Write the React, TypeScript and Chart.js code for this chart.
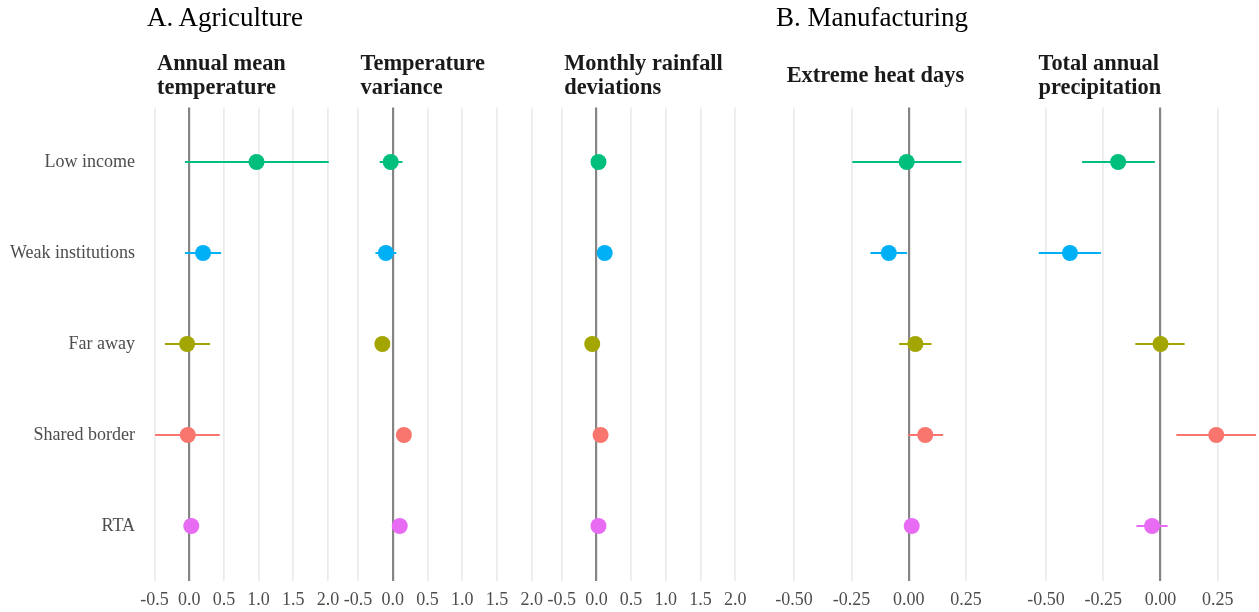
import React, { useEffect, useRef, useState } from "react";
import { Chart, registerables } from "chart.js";

Chart.register(...registerables);

// ---------- data ----------
const ROWS = ["Low income", "Weak institutions", "Far away", "Shared border", "RTA"];
const ROW_COLORS = ["#00BF7D", "#00B0F6", "#A3A500", "#F8766D", "#E76BF3"];

const TICKS_A = [-0.5, 0, 0.5, 1, 1.5, 2];
const TICKS_B = [-0.5, -0.25, 0, 0.25];

// A. Agriculture — Annual mean temperature
const AMT_EST = [0.97, 0.2, -0.03, -0.02, 0.03];
const AMT_LO = [-0.06, -0.06, -0.35, -0.49, 0.0];
const AMT_HI = [2.01, 0.46, 0.3, 0.44, 0.06];
// A. Agriculture — Temperature variance
const TV_EST = [-0.03, -0.1, -0.15, 0.16, 0.1];
const TV_LO = [-0.19, -0.25, -0.18, 0.13, 0.07];
const TV_HI = [0.14, 0.05, -0.12, 0.19, 0.13];
// A. Agriculture — Monthly rainfall deviations
const MRD_EST = [0.03, 0.12, -0.06, 0.06, 0.03];
const MRD_LO = [0.0, 0.09, -0.09, 0.03, 0.0];
const MRD_HI = [0.06, 0.15, -0.03, 0.09, 0.06];
// B. Manufacturing — Extreme heat days
const EHD_EST = [-0.009, -0.087, 0.029, 0.072, 0.013];
const EHD_LO = [-0.246, -0.167, -0.042, -0.004, 0.0];
const EHD_HI = [0.23, -0.007, 0.099, 0.15, 0.026];
// B. Manufacturing — Total annual precipitation
const TAP_EST = [-0.185, -0.395, 0.0, 0.243, -0.037];
const TAP_LO = [-0.342, -0.531, -0.11, 0.069, -0.105];
const TAP_HI = [-0.025, -0.26, 0.105, 0.416, 0.031];

// ---------- layout ----------
const FONT = "'Liberation Serif', 'Times New Roman', serif";
const PAGE_W = 1259;
const PAGE_H = 612;
const AREA_TOP = 107.4;
const AREA_BOTTOM = 580.6;

type PanelProps = {
  est: number[];
  lo: number[];
  hi: number[];
  ticks: number[];
  decimals: number;
  xmin: number;
  xmax: number;
  areaLeft: number;
  areaWidth: number;
  showY: boolean;
};

function Panel(p: PanelProps) {
  const ref = useRef<HTMLCanvasElement | null>(null);
  const [err, setErr] = useState<string>("");
  const canvasLeft = p.showY ? 0 : Math.floor(p.areaLeft - 40);
  const padL = p.showY ? 0 : p.areaLeft - canvasLeft;
  const canvasWidth = Math.ceil(p.areaLeft - canvasLeft + p.areaWidth + 45);
  const padR = canvasWidth - (p.areaLeft - canvasLeft) - p.areaWidth;

  useEffect(() => {
    if (!ref.current) return;
    let chart: Chart | null = null;
    try {
      const pointData = p.est.map((v, i) => ({ x: v, y: i + 1 }));
      const bars = ROWS.map((_, i) => ({
        data: [
          { x: p.lo[i], y: i + 1 },
          { x: p.hi[i], y: i + 1 },
        ],
        showLine: true,
        borderColor: ROW_COLORS[i],
        backgroundColor: ROW_COLORS[i],
        borderWidth: 2.2,
        borderCapStyle: "butt",
        pointRadius: 0,
        order: 1,
      }));
      chart = new Chart(ref.current, {
        type: "scatter",
        data: {
          datasets: [
            {
              data: pointData,
              pointRadius: 8,
              pointBackgroundColor: ROW_COLORS,
              pointBorderWidth: 0,
              order: 0,
            } as any,
            ...(bars as any[]),
          ],
        },
        options: {
          animation: false,
          responsive: false,
          devicePixelRatio: 1,
          events: [],
          layout: {
            padding: { left: padL, right: padR, top: AREA_TOP, bottom: 0 },
          },
          plugins: { legend: { display: false }, tooltip: { enabled: false } },
          scales: {
            x: {
              type: "linear",
              min: p.xmin,
              max: p.xmax,
              afterBuildTicks: (s: any) => {
                s.ticks = p.ticks.map((v) => ({ value: v }));
              },
              afterFit: (s: any) => {
                s.height = PAGE_H - AREA_BOTTOM;
              },
              ticks: {
                autoSkip: false,
                maxRotation: 0,
                padding: 9,
                color: "#4d4d4d",
                font: { family: FONT, size: 18 },
                callback: (v: any) => Number(v).toFixed(p.decimals),
              },
              grid: {
                drawTicks: false,
                color: (c: any) => (c.tick && c.tick.value === 0 ? "#858585" : "#ebebeb"),
                lineWidth: (c: any) => (c.tick && c.tick.value === 0 ? 2.2 : 1.7),
              },
              border: { display: false },
            },
            y: {
              type: "linear",
              min: 0.4,
              max: 5.6,
              reverse: true,
              display: p.showY,
              afterBuildTicks: (s: any) => {
                s.ticks = ROWS.map((_, i) => ({ value: i + 1 }));
              },
              afterFit: (s: any) => {
                if (p.showY) s.width = p.areaLeft;
              },
              ticks: {
                padding: 3.5,
                color: "#4d4d4d",
                font: { family: FONT, size: 18 },
                callback: (v: any) => ROWS[Math.round(Number(v)) - 1],
              },
              grid: { display: false },
              border: { display: false },
            },
          },
        } as any,
      });
    } catch (e: any) {
      setErr(String(e && e.stack ? e.stack : e));
    }
    return () => {
      if (chart) chart.destroy();
    };
  }, []);

  return (
    <>
      <canvas
        ref={ref}
        width={canvasWidth}
        height={PAGE_H}
        style={{
          position: "absolute",
          left: canvasLeft,
          top: 0,
          width: canvasWidth,
          height: PAGE_H,
        }}
      />
      {err ? (
        <div style={{ position: "absolute", left: canvasLeft, top: 200, width: 250, fontSize: 10, color: "red" }}>{err}</div>
      ) : null}
    </>
  );
}

const A_MIN = -0.615;
const A_MAX = 2.135;
const A_W = 190.9;
const B_MIN = -0.578;
const B_MAX = 0.463;
const B_W = 238.7;

const stripStyle = (left: number, top: number): React.CSSProperties => ({
  position: "absolute",
  left,
  top,
  fontFamily: FONT,
  fontWeight: "bold",
  fontSize: 22.4,
  lineHeight: "24.5px",
  color: "#1a1a1a",
  whiteSpace: "pre",
});

const mainStyle = (left: number): React.CSSProperties => ({
  position: "absolute",
  left,
  top: 4,
  fontFamily: FONT,
  fontSize: 27,
  lineHeight: "27px",
  color: "#000000",
  whiteSpace: "pre",
});

export default function App() {
  const panels = [
    { est: AMT_EST, lo: AMT_LO, hi: AMT_HI, ticks: TICKS_A, decimals: 1, xmin: A_MIN, xmax: A_MAX, areaLeft: 146.5, areaWidth: A_W, showY: true, title: "Annual mean\ntemperature", two: true },
    { est: TV_EST, lo: TV_LO, hi: TV_HI, ticks: TICKS_A, decimals: 1, xmin: A_MIN, xmax: A_MAX, areaLeft: 350.1, areaWidth: A_W, showY: false, title: "Temperature\nvariance", two: true },
    { est: MRD_EST, lo: MRD_LO, hi: MRD_HI, ticks: TICKS_A, decimals: 1, xmin: A_MIN, xmax: A_MAX, areaLeft: 553.7, areaWidth: A_W, showY: false, title: "Monthly rainfall\ndeviations", two: true },
    { est: EHD_EST, lo: EHD_LO, hi: EHD_HI, ticks: TICKS_B, decimals: 2, xmin: B_MIN, xmax: B_MAX, areaLeft: 776.2, areaWidth: B_W, showY: false, title: "Extreme heat days", two: false },
    { est: TAP_EST, lo: TAP_LO, hi: TAP_HI, ticks: TICKS_B, decimals: 2, xmin: B_MIN, xmax: B_MAX, areaLeft: 1028, areaWidth: B_W, showY: false, title: "Total annual\nprecipitation", two: true },
  ];
  return (
    <div
      style={{
        position: "absolute",
        left: 0,
        top: 0,
        width: PAGE_W,
        height: PAGE_H,
        overflow: "hidden",
        background: "#ffffff",
      }}
    >
      {panels.map((p, i) => (
        <Panel key={i} {...p} />
      ))}
      <div style={mainStyle(147)}>A. Agriculture</div>
      <div style={mainStyle(776)}>B. Manufacturing</div>
      {panels.map((p, i) => (
        <div key={"t" + i} style={stripStyle(p.areaLeft + 10.5, p.two ? 50.8 : 63.2)}>
          {p.title}
        </div>
      ))}
    </div>
  );
}
